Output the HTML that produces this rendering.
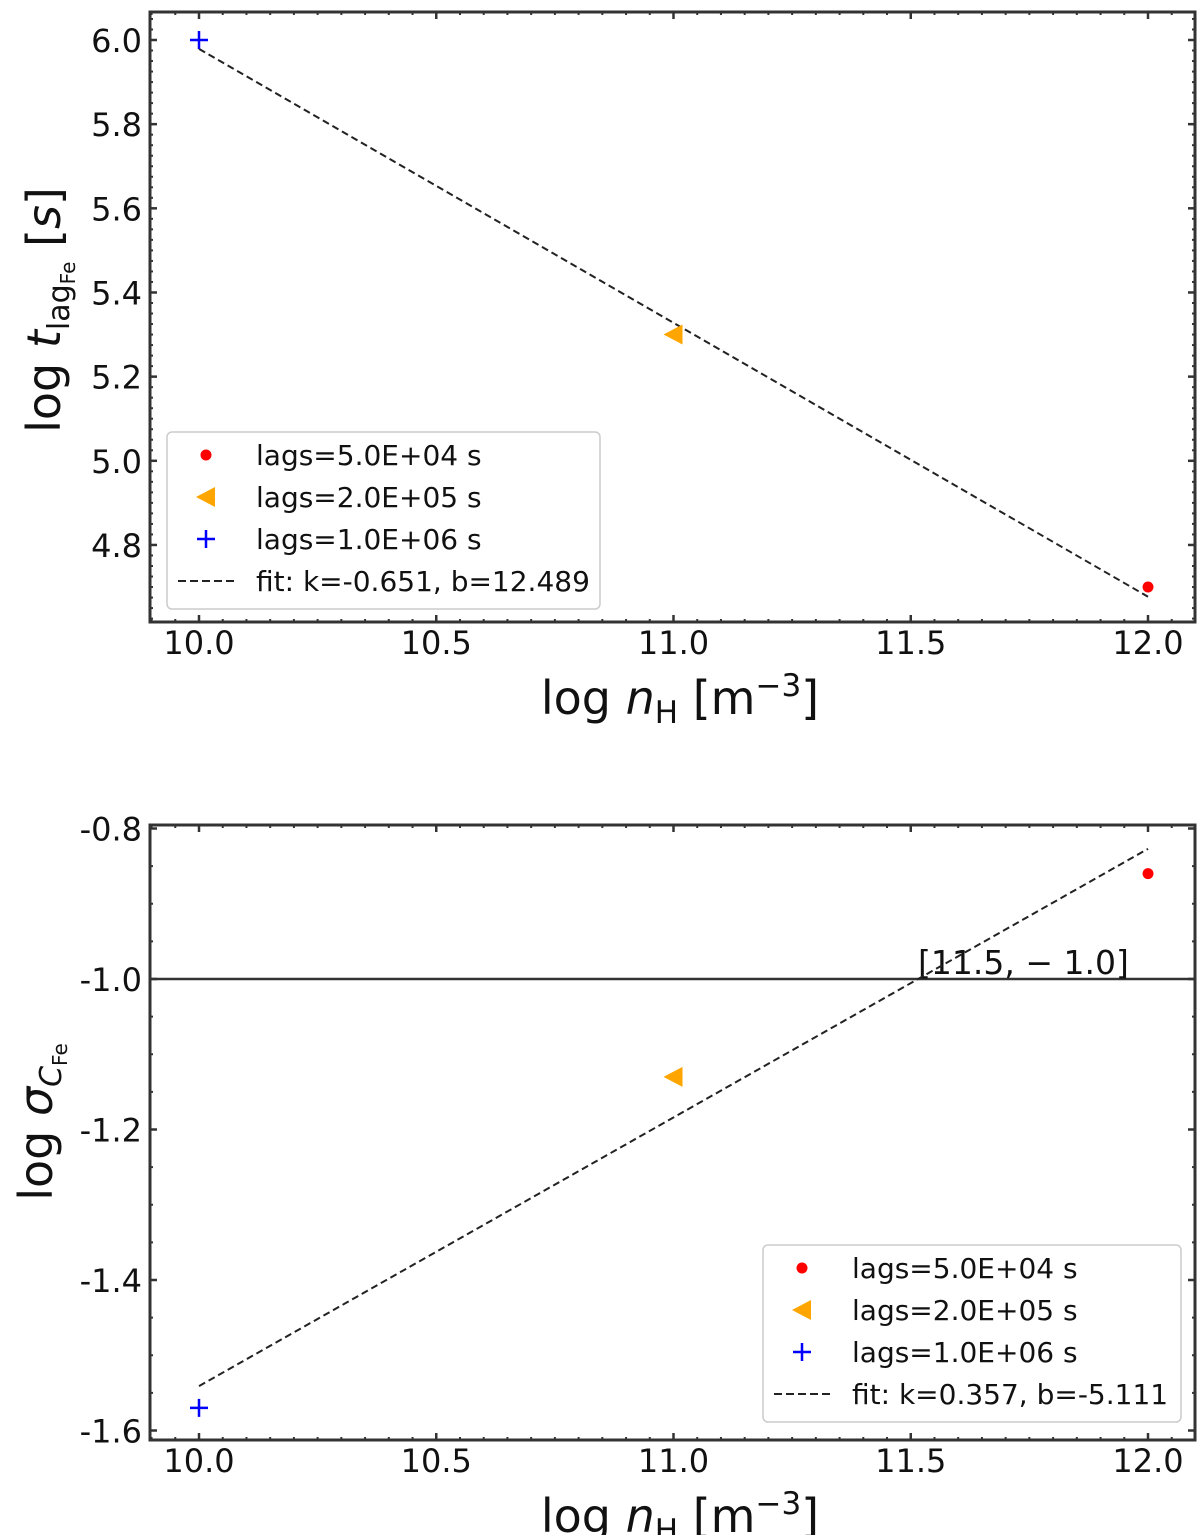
<!DOCTYPE html>
<html><head><meta charset="utf-8"><style>
body{margin:0;background:#fff}
svg{display:block;font-family:"DejaVu Sans","Liberation Sans",sans-serif}
</style></head><body>
<svg id="s" width="1200" height="1535" xmlns="http://www.w3.org/2000/svg"></svg>
<script>
const xCats=[10,11,12];
const topVals=[6.0,5.3,4.7];
const botVals=[-1.57,-1.13,-0.86];
const topFit=[-0.651,12.489];
const botFit=[0.357,-5.111];
const xTicks=[10.0,10.5,11.0,11.5,12.0];
const topYTicks=[4.8,5.0,5.2,5.4,5.6,5.8,6.0];
const botYTicks=[-1.6,-1.4,-1.2,-1.0,-0.8];
const legendLabels=["lags=5.0E+04 s","lags=2.0E+05 s","lags=1.0E+06 s"];
const hlineVal=-1.0;
const NS="http://www.w3.org/2000/svg";
const svg=document.getElementById('s');
function el(t,a,p){const e=document.createElementNS(NS,t);for(const k in a)e.setAttribute(k,a[k]);(p||svg).appendChild(e);return e;}
function panel(o){
  const g=el('g',{});
  
  
  const L=150,R=1195,T=o.T,B=o.B;
  const xs=v=>199+(v-10)*474.5;
  const ys=v=>o.y0px+(v-o.y0)*o.ppu*-1;
  for(let v=9.9;v<=12.1;v+=0.05){const x=xs(v);if(x<L||x>R)continue;
    el('line',{x1:x,x2:x,y1:B,y2:B-3,stroke:'#333','stroke-width':2},g);
    el('line',{x1:x,x2:x,y1:T,y2:T+3,stroke:'#333','stroke-width':2},g);}
  for(let v=o.ymin;v<=o.ymax+1e-9;v+=o.minor){const y=ys(v);if(y<T||y>B)continue;
    el('line',{x1:L,x2:L+3,y1:y,y2:y,stroke:'#333','stroke-width':2},g);
    el('line',{x1:R,x2:R-3,y1:y,y2:y,stroke:'#333','stroke-width':2},g);}
  xTicks.forEach(v=>{const x=xs(v);
    el('line',{x1:x,x2:x,y1:B,y2:B-7,stroke:'#333','stroke-width':2.5},g);
    el('line',{x1:x,x2:x,y1:T,y2:T+7,stroke:'#333','stroke-width':2.5},g);
    const t=el('text',{x:x,y:B+32,'font-size':32,'text-anchor':'middle',fill:'#111'},g);t.textContent=v.toFixed(1);
    });
  o.yTicks.forEach(v=>{const y=ys(v);
    el('line',{x1:L,x2:L+7,y1:y,y2:y,stroke:'#333','stroke-width':2.5},g);
    el('line',{x1:R,x2:R-7,y1:y,y2:y,stroke:'#333','stroke-width':2.5},g);
    const t=el('text',{x:L-8,y:y+12,'font-size':32,'text-anchor':'end',fill:'#111'},g);t.textContent=v.toFixed(1);
    });
  if(o.hline!==undefined){const y=ys(o.hline);
    const h=el('line',{x1:L,x2:R,y1:y,y2:y,stroke:'#333','stroke-width':2.5},g);
    
    const a=el('text',{x:918,y:y-5,'font-size':33,fill:'#111'},g);a.textContent='[11.5, \u2212 1.0]';
    }
  const f=el('line',{x1:xs(10),y1:ys(o.fit[0]*10+o.fit[1]),x2:xs(12),y2:ys(o.fit[0]*12+o.fit[1]),stroke:'#222','stroke-width':2,'stroke-dasharray':'7,4'},g);
  
  const c=el('circle',{cx:xs(xCats[2]),cy:ys(o.vals[2]),r:5.5,fill:'red'},g);
  
  const tx=xs(xCats[1]),ty=ys(o.vals[1]);
  const tr=el('polygon',{points:`${tx-10},${ty} ${tx+9},${ty-10} ${tx+9},${ty+10}`,fill:'orange'},g);
  
  const px=xs(xCats[0]),py=ys(o.vals[0]);
  const pl=el('path',{d:`M${px-9},${py}H${px+9}M${px},${py-9}V${py+9}`,stroke:'blue','stroke-width':2.5},g);
  
  el('rect',{x:L,y:T,width:R-L,height:B-T,fill:'none',stroke:'#333','stroke-width':3},g);
  const lg=el('g',{},g);
  
  el('rect',{x:o.lx,y:o.ly,width:o.lw,height:177,rx:5,fill:'#fff',stroke:'#ccc','stroke-width':1.5},lg);
  const mx=o.lx+39, tx0=o.lx+89;
  const rows=[o.ly+23,o.ly+65,o.ly+107,o.ly+149];
  el('circle',{cx:mx,cy:rows[0],r:5.5,fill:'red'},lg);
  el('polygon',{points:`${mx-10},${rows[1]} ${mx+9},${rows[1]-10} ${mx+9},${rows[1]+10}`,fill:'orange'},lg);
  el('path',{d:`M${mx-9},${rows[2]}H${mx+9}M${mx},${rows[2]-9}V${rows[2]+9}`,stroke:'blue','stroke-width':2.5},lg);
  el('line',{x1:o.lx+11,x2:o.lx+68,y1:rows[3],y2:rows[3],stroke:'#222','stroke-width':2,'stroke-dasharray':'8,4'},lg);
  const labs=legendLabels.concat([`fit: k=${o.fit[0]}, b=${o.fit[1]}`]);
  labs.forEach((s,i)=>{const t=el('text',{x:tx0,y:rows[i]+10,'font-size':28,fill:'#111'},lg);t.textContent=s;
    });
  const xl=el('text',{x:680,y:B+92,'font-size':46,'text-anchor':'middle',fill:'#111'},g);
  xl.innerHTML='log <tspan font-style="italic">n</tspan><tspan font-size="31" dy="9">H</tspan><tspan dy="-9"> [m</tspan><tspan font-size="31" dy="-18">\u22123</tspan><tspan dy="18">]</tspan>';
  
  const yl=el('text',{transform:`translate(${o.ylx},${o.ylc}) rotate(-90)`,'font-size':46,'text-anchor':'middle',fill:'#111'},g);
  yl.innerHTML=o.ylabel;
  
}
panel({name:'top-panel',T:12,B:622,y0:6.0,y0px:40,ppu:420.8,ymin:4.6,ymax:6.1,minor:0.025,yTicks:topYTicks,vals:topVals,fit:topFit,lx:167,ly:432,lw:433,ylx:60,ylc:310,
  ylabel:'log <tspan font-style="italic">t</tspan><tspan font-size="30" dy="9">lag</tspan><tspan font-size="20" dy="6">Fe</tspan><tspan dy="-15"> [</tspan><tspan font-style="italic">s</tspan>]'});
panel({name:'bottom-panel',T:825,B:1440,y0:-1.0,y0px:979,ppu:752.5,ymin:-1.65,ymax:-0.78,minor:0.05,yTicks:botYTicks,vals:botVals,fit:botFit,hline:hlineVal,lx:763,ly:1245,lw:418,ylx:52,ylc:1122,
  ylabel:'log <tspan font-style="italic">σ</tspan><tspan font-size="30" dy="9" font-style="italic">C</tspan><tspan font-size="20" dy="6">Fe</tspan>'});
</script>
</body></html>
